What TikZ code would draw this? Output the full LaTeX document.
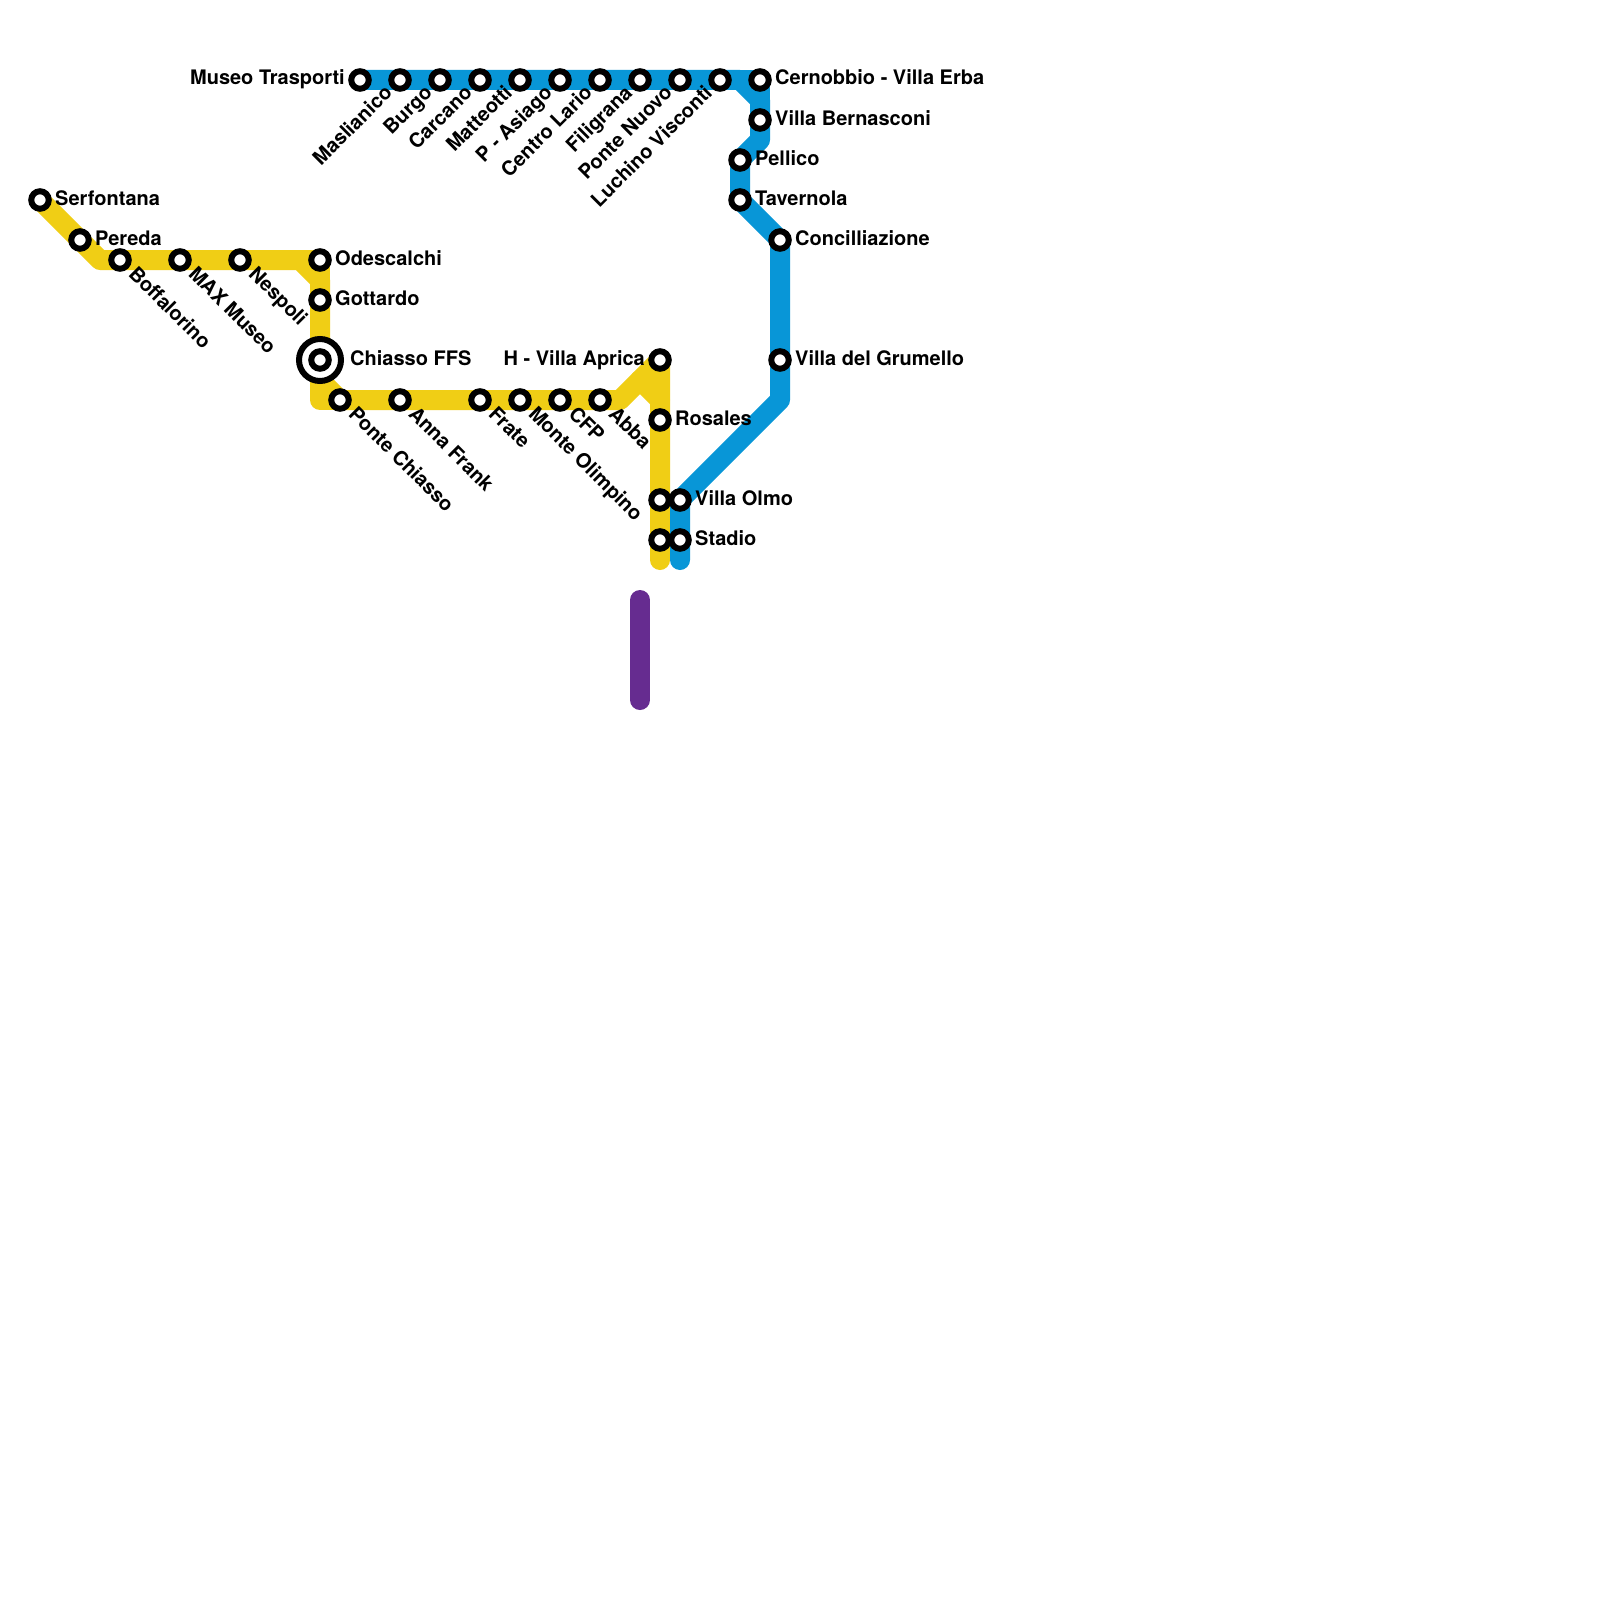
\documentclass[tikz,border=0pt]{standalone}
\usepackage{fontspec}
\setmainfont{TeX Gyre Heros}
\pgfdeclarelayer{lines}
\pgfsetlayers{lines,main}
\definecolor{yel}{HTML}{F0CE15}
\definecolor{blu}{HTML}{0896D7}
\definecolor{pur}{HTML}{662C90}
\tikzset{
 x=1pt,y=-1pt,
 route/.style={line width=20pt,line cap=round,line join=round},
 sta/.style={circle,draw=black,fill=white,line width=6pt,minimum size=17.5pt,inner sep=0pt,outer sep=0pt},
 hub/.style={circle,draw=black,fill=white,line width=6pt,minimum size=42pt,inner sep=0pt,outer sep=0pt},
 lab/.style={font=\bfseries\fontsize{20}{22}\selectfont,inner sep=0pt,text=black},
 lr/.style={lab,anchor=base west},
 ll/.style={lab,anchor=base east},
 ldn/.style={lab,anchor=base west,rotate=-45},
 lup/.style={lab,anchor=base east,rotate=45},
}
\newcommand{\stR}[4]{\node[sta] (#1) at (#2,#3) {};\node[lr] (#1L) at (#2+15,#3+5) {#4};}
\newcommand{\stL}[4]{\node[sta] (#1) at (#2,#3) {};\node[ll] (#1L) at (#2-15,#3+5) {#4};}
\newcommand{\stD}[4]{\node[sta] (#1) at (#2,#3) {};\node[ldn] (#1L) at (#2+7.5,#3+15) {#4};}
\newcommand{\stU}[4]{\node[sta] (#1) at (#2,#3) {};\node[lup] (#1L) at (#2-6.5,#3+14) {#4};}
\begin{document}
\begin{tikzpicture}
\useasboundingbox (0,0) rectangle (1600,1600);
% blue line stations
\stL{mt}{360}{80}{Museo Trasporti}
\stU{mas}{400}{80}{Maslianico}
\stU{bur}{440}{80}{Burgo}
\stU{car}{480}{80}{Carcano}
\stU{mat}{520}{80}{Matteotti}
\stU{pas}{560}{80}{P - Asiago}
\stU{cl}{600}{80}{Centro Lario}
\stU{fil}{640}{80}{Filigrana}
\stU{pn}{680}{80}{Ponte Nuovo}
\stU{lv}{720}{80}{Luchino Visconti}
\stR{cve}{760}{80}{Cernobbio - Villa Erba}
\stR{vb}{760}{120}{Villa Bernasconi}
\stR{pel}{740}{160}{Pellico}
\stR{tav}{740}{200}{Tavernola}
\stR{con}{780}{240}{Concilliazione}
\stR{vg}{780}{360}{Villa del Grumello}
\stR{vo}{680}{500}{Villa Olmo}
\stR{sta}{680}{540}{Stadio}
% yellow line stations
\stR{ser}{40}{200}{Serfontana}
\stR{per}{80}{240}{Pereda}
\stD{bof}{120}{260}{Boffalorino}
\stD{max}{180}{260}{MAX Museo}
\stD{nes}{240}{260}{Nespoli}
\stR{ode}{320}{260}{Odescalchi}
\stR{got}{320}{300}{Gottardo}
\node[hub] (chh) at (320,360) {};
\node[sta] (chi) at (320,360) {};
\node[lr] (chiL) at (350,365) {Chiasso FFS};
\stD{pc}{340}{400}{Ponte Chiasso}
\stD{af}{400}{400}{Anna Frank}
\stD{fra}{480}{400}{Frate}
\stD{mo}{520}{400}{Monte Olimpino}
\stD{cfp}{560}{400}{CFP}
\stD{abb}{600}{400}{Abba}
\stL{hva}{660}{360}{H - Villa Aprica}
\stR{ros}{660}{420}{Rosales}
\node[sta] (y1) at (660,500) {};
\node[sta] (y2) at (660,540) {};
\begin{pgfonlayer}{lines}
\fill[white] (0,0) rectangle (1600,1600);
\coordinate (ya) at (100,260);
\coordinate (yb) at (300,260);
\coordinate (yc) at (320,280);
\coordinate (yd) at (320,380);
\coordinate (ye) at (320,400);
\coordinate (yf) at (620,400);
\coordinate (yg) at (640,380);
\coordinate (yh) at (660,400);
\coordinate (yend) at (660,560);
\coordinate (ba) at (740,80);
\coordinate (bb) at (760,100);
\coordinate (bc) at (760,140);
\coordinate (bd) at (780,400);
\coordinate (bend) at (680,560);
\coordinate (pa) at (640,600);
\coordinate (pb) at (640,700);
\draw[route,draw=yel] (ser.center) -- (ya) -- (yb) -- (yc) -- (yd) -- (pc.center) -- (abb.center) -- (yf) -- (hva.center) -- (yend);
\draw[route,draw=yel] (yb) -- (ode.center) -- (yc);
\draw[route,draw=yel] (yd) -- (ye) -- (pc.center);
\draw[route,draw=yel] (yg) -- (yh);
\draw[route,draw=blu] (mt.center) -- (ba) -- (bb) -- (bc) -- (pel.center) -- (tav.center) -- (con.center) -- (bd) -- (vo.center) -- (bend);
\draw[route,draw=blu] (ba) -- (cve.center) -- (bb);
\draw[route,draw=pur] (pa) -- (pb);
\end{pgfonlayer}
\end{tikzpicture}
\end{document}
